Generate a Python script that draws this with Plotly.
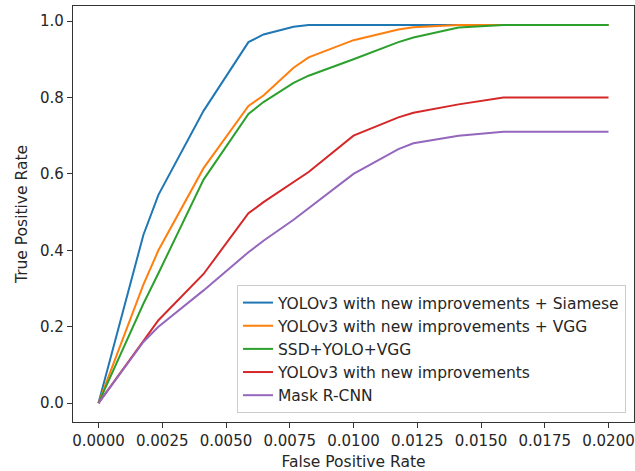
import plotly.graph_objects as go

fpr = [0.0, 0.00176, 0.00235, 0.00412, 0.00588, 0.00647, 0.00765, 0.00824,
       0.0100, 0.01176, 0.01235, 0.01412, 0.01588, 0.0200]

tpr_siamese = [0.0, 0.44, 0.545, 0.765, 0.945, 0.965, 0.985, 0.99,
               0.99, 0.99, 0.99, 0.99, 0.99, 0.99]
tpr_vgg = [0.0, 0.31, 0.40, 0.615, 0.778, 0.805, 0.878, 0.905,
           0.95, 0.978, 0.984, 0.99, 0.99, 0.99]
tpr_ssd = [0.0, 0.26, 0.34, 0.585, 0.757, 0.788, 0.838, 0.857,
           0.90, 0.945, 0.957, 0.983, 0.99, 0.99]
tpr_yolo = [0.0, 0.165, 0.217, 0.338, 0.497, 0.526, 0.578, 0.605,
            0.70, 0.748, 0.76, 0.782, 0.80, 0.80]
tpr_mask = [0.0, 0.16, 0.20, 0.295, 0.395, 0.425, 0.48, 0.51,
            0.60, 0.665, 0.68, 0.70, 0.71, 0.71]

names = ["YOLOv3 with new improvements + Siamese",
         "YOLOv3 with new improvements + VGG",
         "SSD+YOLO+VGG",
         "YOLOv3 with new improvements",
         "Mask R-CNN"]
colors = ["#1f77b4", "#ff7f0e", "#2ca02c", "#d62728", "#9467bd"]
series = [tpr_siamese, tpr_vgg, tpr_ssd, tpr_yolo, tpr_mask]

x_ticks = [0.0, 0.0025, 0.005, 0.0075, 0.01, 0.0125, 0.015, 0.0175, 0.02]
x_tick_text = ["0.0000", "0.0025", "0.0050", "0.0075", "0.0100",
               "0.0125", "0.0150", "0.0175", "0.0200"]
y_ticks = [0.0, 0.2, 0.4, 0.6, 0.8, 1.0]
y_tick_text = ["0.0", "0.2", "0.4", "0.6", "0.8", "1.0"]

fig = go.Figure()
for name, ys, c in zip(names, series, colors):
    fig.add_trace(go.Scatter(x=fpr, y=ys, mode="lines", name=name,
                             line=dict(color=c, width=2)))

txt = "#262626"
fig.update_layout(
    width=635, height=471,
    margin=dict(l=73, r=1, t=6, b=49),
    paper_bgcolor="white", plot_bgcolor="white",
    font=dict(family="DejaVu Sans", size=15, color=txt),
    showlegend=True,
    legend=dict(x=0.9857, y=0.0216, xanchor="right", yanchor="bottom",
                bgcolor="rgba(255,255,255,0.8)", bordercolor="#cccccc",
                borderwidth=1, font=dict(family="DejaVu Sans", size=15.5, color=txt)),
)
fig.update_xaxes(range=[-0.001, 0.021], tickvals=x_ticks, ticktext=x_tick_text,
                 showgrid=False, zeroline=False, showline=True, mirror=True,
                 linecolor="#333333", linewidth=1.3, ticks="outside", ticklen=5,
                 tickcolor="#333333", tickfont=dict(size=15),
                 title=dict(text="False Positive Rate", standoff=6,
                            font=dict(size=15.5)))
fig.update_yaxes(range=[-0.0495, 1.0395], tickvals=y_ticks, ticktext=y_tick_text,
                 showgrid=False, zeroline=False, showline=True, mirror=True,
                 linecolor="#333333", linewidth=1.3, ticks="outside", ticklen=5,
                 tickcolor="#333333", tickfont=dict(size=15),
                 title=dict(text="True Positive Rate", standoff=8,
                            font=dict(size=15.5)))

fig.write_html("out.html", config={"displayModeBar": False},
               post_script="document.body.style.margin='0';document.body.style.padding='0';")
